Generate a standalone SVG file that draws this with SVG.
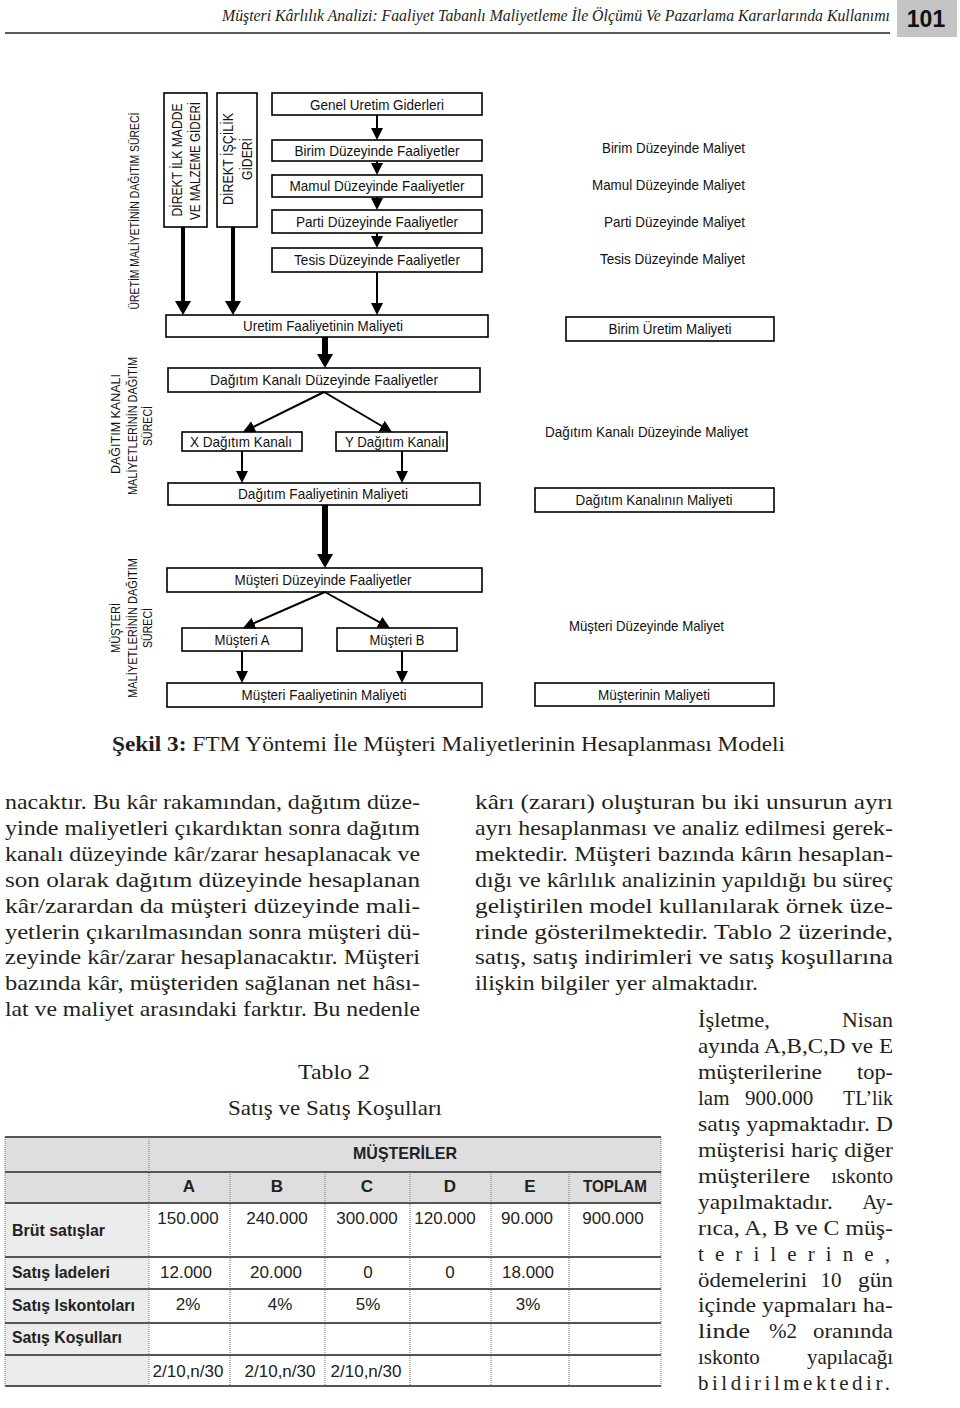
<svg xmlns="http://www.w3.org/2000/svg" width="960" height="1408" viewBox="0 0 960 1408">
<style>
.bx{fill:#fff;stroke:#000;stroke-width:1.6}
.dt{font-family:"Liberation Sans",Arial,sans-serif;font-size:15px;fill:#111;text-anchor:middle}
.dr{font-family:"Liberation Sans",Arial,sans-serif;font-size:15px;fill:#111;text-anchor:end}
.vt{font-family:"Liberation Sans",Arial,sans-serif;font-size:14px;fill:#111;text-anchor:middle}
.sl{font-family:"Liberation Sans",Arial,sans-serif;font-size:12px;fill:#111;text-anchor:middle}
.c{stroke:#000;stroke-width:2;fill:none}
.ct{stroke:#000;stroke-width:4;fill:none}
.cx{stroke:#000;stroke-width:6;fill:none}
.bt{font-family:"Liberation Serif","Times New Roman",serif;font-size:21px;fill:#231f20}
.bte{font-family:"Liberation Serif","Times New Roman",serif;font-size:21px;fill:#231f20;text-anchor:end}
.btm{font-family:"Liberation Serif","Times New Roman",serif;font-size:21px;fill:#231f20;text-anchor:middle}
.th{font-family:"Liberation Sans",Arial,sans-serif;font-size:17px;font-weight:bold;fill:#222;text-anchor:middle}
.tl{font-family:"Liberation Sans",Arial,sans-serif;font-size:17px;font-weight:bold;fill:#222}
.tv{font-family:"Liberation Sans",Arial,sans-serif;font-size:17px;fill:#222;text-anchor:middle}
.hl{stroke:#555;stroke-width:2}
.vl{stroke:#777;stroke-width:1;stroke-dasharray:1 1}
</style>
<defs>
<marker id="ah" viewBox="0 0 12 12" markerWidth="12" markerHeight="12" refX="6" refY="6" orient="auto" markerUnits="userSpaceOnUse"><path d="M0,0 L12,6 L0,12 z" fill="#000"/></marker>
<marker id="ahb" viewBox="0 0 14 16" markerWidth="14" markerHeight="16" refX="6" refY="8" orient="auto" markerUnits="userSpaceOnUse"><path d="M0,0 L14,8 L0,16 z" fill="#000"/></marker>
</defs>
<rect width="960" height="1408" fill="#fff"/>

<g id="header">
<text x="890" y="21" font-family="Liberation Serif,'Times New Roman',serif" font-style="italic" font-size="16" fill="#231f20" text-anchor="end" textLength="668" lengthAdjust="spacingAndGlyphs">Müşteri Kârlılık Analizi: Faaliyet Tabanlı Maliyetleme İle Ölçümü Ve Pazarlama Kararlarında Kullanımı</text>
<line x1="5" y1="33" x2="890" y2="33" stroke="#222" stroke-width="1.5"/>
<rect x="897" y="0" width="60" height="37" fill="#c4c4c4"/>
<text x="926" y="27" font-family="Liberation Sans,Arial,sans-serif" font-weight="bold" font-size="23" fill="#111" text-anchor="middle">101</text>
</g>

<g id="side-labels">
<text class="sl" font-size="13" transform="translate(139,211) rotate(-90)" textLength="197" lengthAdjust="spacingAndGlyphs">ÜRETİM MALİYETİNİN DAĞITIM SÜRECİ</text>
<text class="sl" transform="translate(120,424) rotate(-90)" textLength="100" lengthAdjust="spacingAndGlyphs">DAĞITIM KANALI</text>
<text class="sl" transform="translate(137,426) rotate(-90)" textLength="138" lengthAdjust="spacingAndGlyphs">MALİYETLERİNİN DAĞITIM</text>
<text class="sl" transform="translate(152,426) rotate(-90)" textLength="40" lengthAdjust="spacingAndGlyphs">SÜRECİ</text>
<text class="sl" transform="translate(120,628) rotate(-90)" textLength="50" lengthAdjust="spacingAndGlyphs">MÜŞTERİ</text>
<text class="sl" transform="translate(137,628) rotate(-90)" textLength="140" lengthAdjust="spacingAndGlyphs">MALİYETLERİNİN DAĞITIM</text>
<text class="sl" transform="translate(152,628) rotate(-90)" textLength="40" lengthAdjust="spacingAndGlyphs">SÜRECİ</text>
</g>

<g id="n-direkt-madde">
<rect class="bx" x="164" y="93" width="43" height="134"/>
<text class="vt" transform="translate(182,160) rotate(-90)" textLength="113" lengthAdjust="spacingAndGlyphs">DİREKT İLK MADDE</text>
<text class="vt" transform="translate(200,161) rotate(-90)" textLength="118" lengthAdjust="spacingAndGlyphs">VE MALZEME GİDERİ</text>
</g>
<g id="n-direkt-iscilik">
<rect class="bx" x="217" y="93" width="40" height="134"/>
<text class="vt" transform="translate(233,159) rotate(-90)" textLength="92" lengthAdjust="spacingAndGlyphs">DİREKT İŞÇİLİK</text>
<text class="vt" transform="translate(252,159) rotate(-90)" textLength="42" lengthAdjust="spacingAndGlyphs">GİDERİ</text>
</g>
<g id="n-genel"><rect class="bx" x="272" y="93" width="210" height="22"/><text class="dt" x="377" y="109.5" textLength="134" lengthAdjust="spacingAndGlyphs">Genel Uretim Giderleri</text></g>
<g id="n-birim"><rect class="bx" x="272" y="140" width="210" height="21"/><text class="dt" x="377" y="155.5" textLength="165" lengthAdjust="spacingAndGlyphs">Birim Düzeyinde Faaliyetler</text></g>
<g id="n-mamul"><rect class="bx" x="272" y="175" width="210" height="22"/><text class="dt" x="377" y="191" textLength="175" lengthAdjust="spacingAndGlyphs">Mamul Düzeyinde Faaliyetler</text></g>
<g id="n-parti"><rect class="bx" x="272" y="210" width="210" height="23"/><text class="dt" x="377" y="226.5" textLength="162" lengthAdjust="spacingAndGlyphs">Parti Düzeyinde Faaliyetler</text></g>
<g id="n-tesis"><rect class="bx" x="272" y="248" width="210" height="24"/><text class="dt" x="377" y="265" textLength="166" lengthAdjust="spacingAndGlyphs">Tesis Düzeyinde Faaliyetler</text></g>
<g id="n-uretim"><rect class="bx" x="166" y="315" width="322" height="22"/><text class="dt" x="323" y="331" textLength="160" lengthAdjust="spacingAndGlyphs">Uretim Faaliyetinin Maliyeti</text></g>

<g id="n-dkanal"><rect class="bx" x="168" y="368" width="312" height="24"/><text class="dt" x="324" y="385" textLength="228" lengthAdjust="spacingAndGlyphs">Dağıtım Kanalı Düzeyinde Faaliyetler</text></g>
<g id="n-xkanal"><rect class="bx" x="182" y="432" width="120" height="19"/><text class="dt" x="241" y="446.5" textLength="102" lengthAdjust="spacingAndGlyphs">X Dağıtım Kanalı</text></g>
<g id="n-ykanal"><rect class="bx" x="336" y="432" width="111" height="19"/><text class="dt" x="395" y="446.5" textLength="100" lengthAdjust="spacingAndGlyphs">Y Dağıtım Kanalı</text></g>
<g id="n-dfaal"><rect class="bx" x="168" y="483" width="312" height="22"/><text class="dt" x="323" y="499" textLength="170" lengthAdjust="spacingAndGlyphs">Dağıtım Faaliyetinin Maliyeti</text></g>

<g id="n-mduzey"><rect class="bx" x="167" y="568" width="315" height="24"/><text class="dt" x="323" y="585" textLength="177" lengthAdjust="spacingAndGlyphs">Müşteri Düzeyinde Faaliyetler</text></g>
<g id="n-musA"><rect class="bx" x="182" y="628" width="120" height="23"/><text class="dt" x="242" y="644.5" textLength="55" lengthAdjust="spacingAndGlyphs">Müşteri A</text></g>
<g id="n-musB"><rect class="bx" x="337" y="628" width="120" height="23"/><text class="dt" x="397" y="644.5" textLength="55" lengthAdjust="spacingAndGlyphs">Müşteri B</text></g>
<g id="n-mfaal"><rect class="bx" x="167" y="683" width="315" height="24"/><text class="dt" x="324" y="700" textLength="165" lengthAdjust="spacingAndGlyphs">Müşteri Faaliyetinin Maliyeti</text></g>

<g id="right-col">
<text class="dr" x="745" y="153" textLength="143" lengthAdjust="spacingAndGlyphs">Birim Düzeyinde Maliyet</text>
<text class="dr" x="745" y="190" textLength="153" lengthAdjust="spacingAndGlyphs">Mamul Düzeyinde Maliyet</text>
<text class="dr" x="745" y="227" textLength="141" lengthAdjust="spacingAndGlyphs">Parti Düzeyinde Maliyet</text>
<text class="dr" x="745" y="264" textLength="145" lengthAdjust="spacingAndGlyphs">Tesis Düzeyinde Maliyet</text>
</g>
<g id="n-birim-uretim"><rect class="bx" x="566" y="317" width="208" height="24"/><text class="dt" x="670" y="334" textLength="123" lengthAdjust="spacingAndGlyphs">Birim Üretim Maliyeti</text></g>
<g id="t-dkanal-maliyet"><text class="dr" x="748" y="437" textLength="203" lengthAdjust="spacingAndGlyphs">Dağıtım Kanalı Düzeyinde Maliyet</text></g>
<g id="n-dkanal-maliyet"><rect class="bx" x="535" y="488" width="239" height="24"/><text class="dt" x="654" y="505" textLength="157" lengthAdjust="spacingAndGlyphs">Dağıtım Kanalının Maliyeti</text></g>
<g id="t-musteri-maliyet"><text class="dr" x="724" y="631" textLength="155" lengthAdjust="spacingAndGlyphs">Müşteri Düzeyinde Maliyet</text></g>
<g id="n-musteri-maliyet"><rect class="bx" x="535" y="683" width="239" height="23"/><text class="dt" x="654" y="700" textLength="112" lengthAdjust="spacingAndGlyphs">Müşterinin Maliyeti</text></g>

<g id="connectors">
<line class="c" x1="377" y1="115" x2="377" y2="134" marker-end="url(#ah)"/>
<line class="c" x1="377" y1="161" x2="377" y2="169" marker-end="url(#ah)"/>
<line class="c" x1="377" y1="197" x2="377" y2="204" marker-end="url(#ah)"/>
<line class="c" x1="377" y1="233" x2="377" y2="242" marker-end="url(#ah)"/>
<line class="c" x1="377" y1="272" x2="377" y2="309" marker-end="url(#ah)"/>
<line class="ct" x1="183" y1="227" x2="183" y2="307" marker-end="url(#ahb)"/>
<line class="ct" x1="233" y1="227" x2="233" y2="307" marker-end="url(#ahb)"/>
<line class="cx" x1="325" y1="337" x2="325" y2="360" marker-end="url(#ahb)"/>
<line class="c" x1="324" y1="392" x2="248.4" y2="429.3" marker-end="url(#ah)"/>
<line class="c" x1="324" y1="392" x2="386.8" y2="429" marker-end="url(#ah)"/>
<line class="c" x1="242" y1="451" x2="242" y2="477" marker-end="url(#ah)"/>
<line class="c" x1="402" y1="451" x2="402" y2="477" marker-end="url(#ah)"/>
<line class="cx" x1="325" y1="505" x2="325" y2="560" marker-end="url(#ahb)"/>
<line class="c" x1="325" y1="592" x2="248.5" y2="625.6" marker-end="url(#ah)"/>
<line class="c" x1="325" y1="592" x2="384.7" y2="625.1" marker-end="url(#ah)"/>
<line class="c" x1="242" y1="651" x2="242" y2="677" marker-end="url(#ah)"/>
<line class="c" x1="402" y1="651" x2="402" y2="677" marker-end="url(#ah)"/>
</g>

<g id="caption">
<text class="bt" x="112" y="751" textLength="673" lengthAdjust="spacingAndGlyphs"><tspan font-weight="bold">Şekil 3:</tspan> FTM Yöntemi İle Müşteri Maliyetlerinin Hesaplanması Modeli</text>
</g>

<g id="body-left">
<text class="bt" x="5" y="809" textLength="415" lengthAdjust="spacingAndGlyphs">nacaktır. Bu kâr rakamından, dağıtım düze-</text>
<text class="bt" x="5" y="835" textLength="415" lengthAdjust="spacingAndGlyphs">yinde maliyetleri çıkardıktan sonra dağıtım</text>
<text class="bt" x="5" y="861" textLength="415" lengthAdjust="spacingAndGlyphs">kanalı düzeyinde kâr/zarar hesaplanacak ve</text>
<text class="bt" x="5" y="887" textLength="415" lengthAdjust="spacingAndGlyphs">son olarak dağıtım düzeyinde hesaplanan</text>
<text class="bt" x="5" y="913" textLength="415" lengthAdjust="spacingAndGlyphs">kâr/zarardan da müşteri düzeyinde mali-</text>
<text class="bt" x="5" y="939" textLength="415" lengthAdjust="spacingAndGlyphs">yetlerin çıkarılmasından sonra müşteri dü-</text>
<text class="bt" x="5" y="964" textLength="415" lengthAdjust="spacingAndGlyphs">zeyinde kâr/zarar hesaplanacaktır. Müşteri</text>
<text class="bt" x="5" y="990" textLength="415" lengthAdjust="spacingAndGlyphs">bazında kâr, müşteriden sağlanan net hâsı-</text>
<text class="bt" x="5" y="1016" textLength="415" lengthAdjust="spacingAndGlyphs">lat ve maliyet arasındaki farktır. Bu nedenle</text>
</g>

<g id="body-right">
<text class="bt" x="475" y="809" textLength="418" lengthAdjust="spacingAndGlyphs">kârı (zararı) oluşturan bu iki unsurun ayrı</text>
<text class="bt" x="475" y="835" textLength="418" lengthAdjust="spacingAndGlyphs">ayrı hesaplanması ve analiz edilmesi gerek-</text>
<text class="bt" x="475" y="861" textLength="418" lengthAdjust="spacingAndGlyphs">mektedir. Müşteri bazında kârın hesaplan-</text>
<text class="bt" x="475" y="887" textLength="418" lengthAdjust="spacingAndGlyphs">dığı ve kârlılık analizinin yapıldığı bu süreç</text>
<text class="bt" x="475" y="913" textLength="418" lengthAdjust="spacingAndGlyphs">geliştirilen model kullanılarak örnek üze-</text>
<text class="bt" x="475" y="939" textLength="418" lengthAdjust="spacingAndGlyphs">rinde gösterilmektedir. Tablo 2 üzerinde,</text>
<text class="bt" x="475" y="964" textLength="418" lengthAdjust="spacingAndGlyphs">satış, satış indirimleri ve satış koşullarına</text>
<text class="bt" x="475" y="990" textLength="283" lengthAdjust="spacingAndGlyphs">ilişkin bilgiler yer almaktadır.</text>
</g>

<g id="body-side">
<text class="bt" x="698" y="1027" textLength="72" lengthAdjust="spacingAndGlyphs">İşletme,</text><text class="bte" x="893" y="1027" textLength="51" lengthAdjust="spacingAndGlyphs">Nisan</text>
<text class="bt" x="698" y="1053" textLength="195" lengthAdjust="spacingAndGlyphs">ayında A,B,C,D ve E</text>
<text class="bt" x="698" y="1079" textLength="124" lengthAdjust="spacingAndGlyphs">müşterilerine</text><text class="bte" x="893" y="1079" textLength="36" lengthAdjust="spacingAndGlyphs">top-</text>
<text class="bt" x="698" y="1105">lam</text><text class="btm" x="779" y="1105">900.000</text><text class="bte" x="893" y="1105" textLength="50" lengthAdjust="spacingAndGlyphs">TL’lik</text>
<text class="bt" x="698" y="1131" textLength="195" lengthAdjust="spacingAndGlyphs">satış yapmaktadır. D</text>
<text class="bt" x="698" y="1157" textLength="195" lengthAdjust="spacingAndGlyphs">müşterisi hariç diğer</text>
<text class="bt" x="698" y="1183" textLength="112" lengthAdjust="spacingAndGlyphs">müşterilere</text><text class="bte" x="893" y="1183">ıskonto</text>
<text class="bt" x="698" y="1209" textLength="135" lengthAdjust="spacingAndGlyphs">yapılmaktadır.</text><text class="bte" x="893" y="1209">Ay-</text>
<text class="bt" x="698" y="1235" textLength="195" lengthAdjust="spacingAndGlyphs">rıca, A, B ve C müş-</text>
<text class="bt" x="698" y="1261" textLength="192">terilerine,</text>
<text class="bt" x="698" y="1287" textLength="109" lengthAdjust="spacingAndGlyphs">ödemelerini</text><text class="btm" x="831" y="1287">10</text><text class="bte" x="893" y="1287" textLength="35" lengthAdjust="spacingAndGlyphs">gün</text>
<text class="bt" x="698" y="1312" textLength="195" lengthAdjust="spacingAndGlyphs">içinde yapmaları ha-</text>
<text class="bt" x="698" y="1338" textLength="52" lengthAdjust="spacingAndGlyphs">linde</text><text class="btm" x="783" y="1338">%2</text><text class="bte" x="893" y="1338" textLength="80" lengthAdjust="spacingAndGlyphs">oranında</text>
<text class="bt" x="698" y="1364">ıskonto</text><text class="bte" x="893" y="1364" textLength="86" lengthAdjust="spacingAndGlyphs">yapılacağı</text>
<text class="bt" x="698" y="1390" textLength="192">bildirilmektedir.</text>
</g>

<g id="table-title">
<text class="btm" x="334" y="1079" textLength="72" lengthAdjust="spacingAndGlyphs">Tablo 2</text>
<text class="btm" x="335" y="1115" textLength="214" lengthAdjust="spacingAndGlyphs">Satış ve Satış Koşulları</text>
</g>

<g id="table">
<rect x="5" y="1137" width="656" height="66" fill="#dedede"/>
<rect x="5" y="1203" width="144" height="183" fill="#ececec"/>
<g id="table-vlines">
<line class="vl" x1="5" y1="1137" x2="5" y2="1386"/>
<line class="vl" x1="661" y1="1137" x2="661" y2="1386"/>
<line class="vl" x1="149" y1="1137" x2="149" y2="1386"/>
<line class="vl" x1="230" y1="1172" x2="230" y2="1386"/>
<line class="vl" x1="325" y1="1172" x2="325" y2="1386"/>
<line class="vl" x1="410" y1="1172" x2="410" y2="1386"/>
<line class="vl" x1="491" y1="1172" x2="491" y2="1386"/>
<line class="vl" x1="569" y1="1172" x2="569" y2="1386"/>
</g>
<g id="table-hlines">
<line class="hl" x1="5" y1="1137" x2="661" y2="1137"/>
<line class="hl" x1="5" y1="1172" x2="661" y2="1172"/>
<line class="hl" x1="5" y1="1203" x2="661" y2="1203"/>
<line class="hl" x1="5" y1="1257" x2="661" y2="1257"/>
<line class="hl" x1="5" y1="1289" x2="661" y2="1289"/>
<line class="hl" x1="5" y1="1323" x2="661" y2="1323"/>
<line class="hl" x1="5" y1="1355" x2="661" y2="1355"/>
<line class="hl" x1="5" y1="1386" x2="661" y2="1386"/>
</g>
<text class="th" x="405" y="1159" textLength="104" lengthAdjust="spacingAndGlyphs">MÜŞTERİLER</text>
<text class="th" x="189" y="1192">A</text>
<text class="th" x="277" y="1192">B</text>
<text class="th" x="367" y="1192">C</text>
<text class="th" x="450" y="1192">D</text>
<text class="th" x="530" y="1192">E</text>
<text class="th" x="615" y="1192" textLength="64" lengthAdjust="spacingAndGlyphs">TOPLAM</text>

<text class="tl" x="12" y="1236" textLength="93" lengthAdjust="spacingAndGlyphs">Brüt satışlar</text>
<text class="tv" x="188" y="1224">150.000</text>
<text class="tv" x="277" y="1224">240.000</text>
<text class="tv" x="367" y="1224">300.000</text>
<text class="tv" x="445" y="1224">120.000</text>
<text class="tv" x="527" y="1224">90.000</text>
<text class="tv" x="613" y="1224">900.000</text>

<text class="tl" x="12" y="1278" textLength="98" lengthAdjust="spacingAndGlyphs">Satış İadeleri</text>
<text class="tv" x="186" y="1278">12.000</text>
<text class="tv" x="276" y="1278">20.000</text>
<text class="tv" x="368" y="1278">0</text>
<text class="tv" x="450" y="1278">0</text>
<text class="tv" x="528" y="1278">18.000</text>

<text class="tl" x="12" y="1311" textLength="123" lengthAdjust="spacingAndGlyphs">Satış Iskontoları</text>
<text class="tv" x="188" y="1310">2%</text>
<text class="tv" x="280" y="1310">4%</text>
<text class="tv" x="368" y="1310">5%</text>
<text class="tv" x="528" y="1310">3%</text>

<text class="tl" x="12" y="1343" textLength="110" lengthAdjust="spacingAndGlyphs">Satış Koşulları</text>

<text class="tv" x="188" y="1377">2/10,n/30</text>
<text class="tv" x="280" y="1377">2/10,n/30</text>
<text class="tv" x="366" y="1377">2/10,n/30</text>
</g>
</svg>
